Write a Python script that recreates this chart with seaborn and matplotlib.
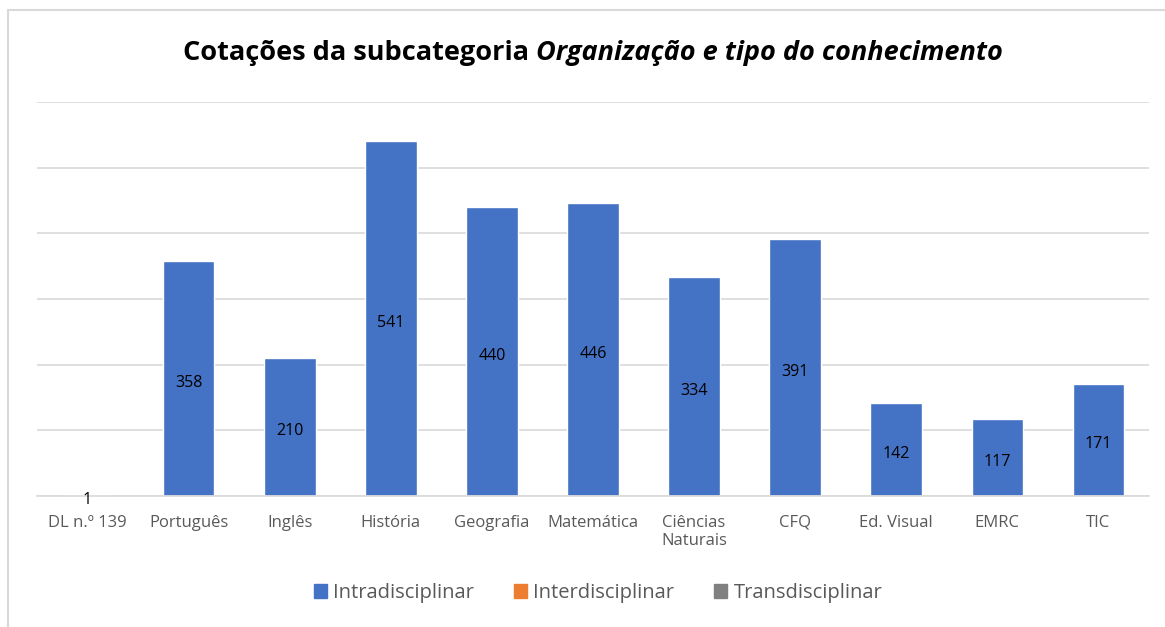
import numpy as np
import pandas as pd
import matplotlib
matplotlib.use("Agg")
import matplotlib.pyplot as plt
import seaborn as sns
from matplotlib.patches import Rectangle

categories = ["DL n.º 139", "Português", "Inglês", "História", "Geografia",
              "Matemática", "Ciências\nNaturais", "CFQ", "Ed. Visual", "EMRC", "TIC"]
intra = [1, 358, 210, 541, 440, 446, 334, 391, 142, 117, 171]
inter = [0, 0, 0, 0, 0, 0, 0, 0, 0, 0, 0]
trans = [0, 0, 0, 0, 0, 0, 0, 0, 0, 0, 0]
series_names = ["Intradisciplinar", "Interdisciplinar", "Transdisciplinar"]
colors = ["#4472C4", "#ED7D31", "#A5A5A5"]
legend_colors = ["#4472C4", "#ED7D31", "#808080"]

df = pd.DataFrame({
    "cat": categories * 3,
    "serie": [series_names[0]] * 11 + [series_names[1]] * 11 + [series_names[2]] * 11,
    "val": intra + inter + trans,
})

sns.set_style("white")
plt.rcParams["font.family"] = ["Open Sans", "DejaVu Sans"]

fig = plt.figure(figsize=(11.65, 6.27), dpi=100)
ax = fig.add_axes([37 / 1165, 131 / 627, 1112 / 1165, 394 / 627])

sns.barplot(data=df, x="cat", y="val", hue="serie", order=categories,
            hue_order=series_names, palette=colors, dodge=False, width=0.51,
            saturation=1, legend=False, ax=ax, errorbar=None)

ax.set_ylim(0, 600)
ax.set_xlim(-0.5, len(categories) - 0.5)
ax.set_yticks(np.arange(0, 601, 100))
ax.yaxis.grid(True, color="#D9D9D9", linewidth=1.2)
ax.set_axisbelow(True)
ax.tick_params(axis="y", left=False, labelleft=False)
ax.tick_params(axis="x", bottom=False, labelsize=12, labelcolor="#595959", pad=10)
ax.set_xlabel("")
ax.set_ylabel("")
for s in ["top", "right", "left"]:
    ax.spines[s].set_visible(False)
ax.spines["bottom"].set_color("#D9D9D9")
ax.spines["bottom"].set_linewidth(1.2)

# data labels, centred in each bar (slightly lower, like the original)
for i, v in enumerate(intra):
    ax.annotate(str(v), (i, v / 2), xytext=(0, -3), textcoords="offset points",
                ha="center", va="center", fontsize=11.5, color="black")

# title in two parts (regular + italic), centred as a whole
ty = 1 - 53 / 627
t1 = fig.text(0, ty, "Cotações da subcategoria ", ha="left", va="center",
              fontsize=19.5, fontweight="bold", color="black")
t2 = fig.text(0, ty, "Organização e tipo do conhecimento", ha="left", va="center",
              fontsize=19.5, fontweight="bold", style="italic", color="black")
fig.canvas.draw()
r = fig.canvas.get_renderer()
w1 = t1.get_window_extent(r).width / 1165
w2 = t2.get_window_extent(r).width / 1165
x0 = 593 / 1165 - (w1 + w2) / 2
t1.set_x(x0)
t2.set_x(x0 + w1)

handles = [Rectangle((0, 0), 1, 1, color=c) for c in legend_colors]
leg = fig.legend(handles, series_names, loc="center", bbox_to_anchor=(598 / 1165, 1 - 593 / 627),
                 ncol=3, frameon=False, fontsize=14.5, handlelength=0.65, handleheight=0.65,
                 handletextpad=0.3, columnspacing=2.0)
for t in leg.get_texts():
    t.set_color("#595959")

fig.patches.append(Rectangle((8 / 1165, -0.1), 1.2, 1.1 - 10 / 627, transform=fig.transFigure,
                             fill=False, edgecolor="#D9D9D9", linewidth=1.5))

fig.savefig("out.png", dpi=100)
